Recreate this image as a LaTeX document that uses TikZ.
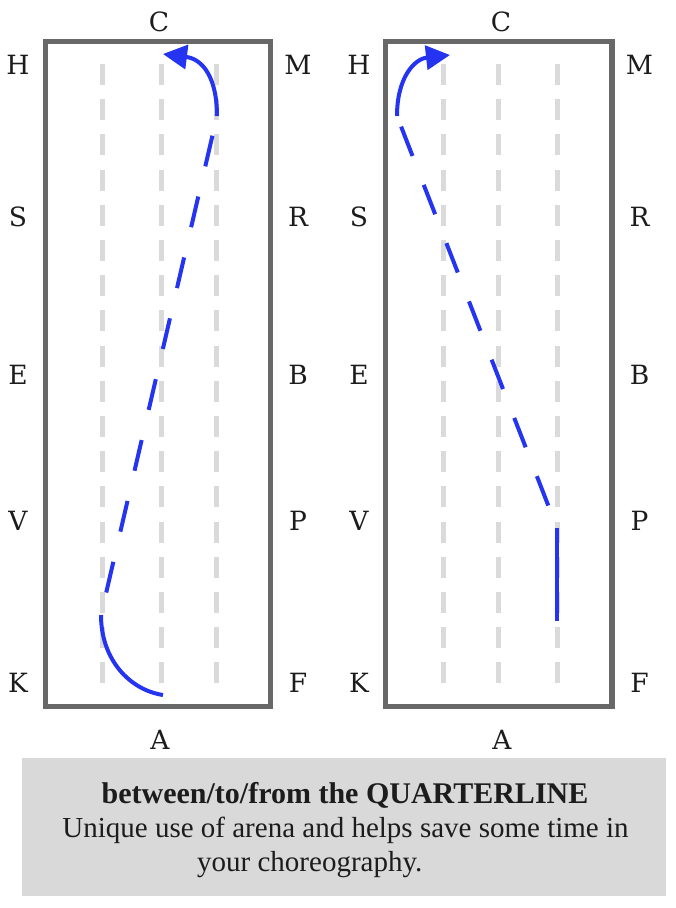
\documentclass[tikz,border=0pt]{standalone}
\usepackage{fontspec}
\setmainfont{Liberation Serif}
\newfontfamily\letterfont{DejaVu Serif}
\usetikzlibrary{arrows.meta}
\definecolor{pathblue}{RGB}{36,52,240}
\definecolor{arenagray}{RGB}{104,104,104}
\definecolor{quartergray}{RGB}{218,218,218}
\definecolor{boxgray}{RGB}{217,217,217}
\definecolor{inkblack}{RGB}{28,28,28}
\begin{document}
\begin{tikzpicture}[x=1pt,y=-1pt,
  arena/.style={draw=arenagray,line width=5pt},
  qline/.style={draw=quartergray,line width=5pt,dash pattern=on 21pt off 14.2pt},
  letter/.style={font=\letterfont\fontsize{26.5}{26.5}\selectfont,text=inkblack,inner sep=0pt,anchor=base},
  solidpath/.style={draw=pathblue,line width=4pt},
  dashpath/.style={draw=pathblue,line width=4pt,dash pattern=on 31.5pt off 31pt},
  arrowtip/.style={-{Triangle[length=24pt,width=24pt]}},
  textline/.style={text=inkblack,inner sep=0pt,font=\fontsize{29}{29}\selectfont}
]
\useasboundingbox (0,0) rectangle (676,908);

% ---- left arena ----
\draw[arena] (45.5,41.5) rectangle (270.5,706);
\foreach \x in {102.5,161,216} \draw[qline] (\x,64) -- (\x,684);
\foreach \n/\y in {H/65,S/217,E/374.5,V/521,K/683}
  \node[letter] (l\n) at (18,\y+9.8) {\n};
\foreach \n/\y in {M/65,R/217,B/374.5,P/521,F/683}
  \node[letter] (l\n) at (298,\y+9.8) {\n};
\node[letter] (lC) at (159,31.8) {C};
\node[letter] (lA) at (160,749.8) {A};

% ---- right arena ----
\draw[arena] (385.5,41.5) rectangle (611,706);
\fill[arenagray] (608.5,39) rectangle (615,708.5);
\foreach \x in {443.3,498,557} \draw[qline] (\x,64) -- (\x,684);
\foreach \n/\y in {H/65,S/217,E/374.5,V/521,K/683}
  \node[letter] (r\n) at (359,\y+9.8) {\n};
\foreach \n/\y in {M/65,R/217,B/374.5,P/521,F/683}
  \node[letter] (r\n) at (639.5,\y+9.8) {\n};
\node[letter] (rC) at (501,31.8) {C};
\node[letter] (rA) at (502,749.8) {A};

% ---- left path ----
\coordinate (L0) at (163,695);
\coordinate (L1) at (101,615);
\coordinate (L2) at (217,116);
\coordinate (L3) at (163,54);
\draw[solidpath] (L0) .. controls (130,690) and (101,660) .. (L1);
\draw[dashpath,dash phase=39.4pt] (L1) -- (L2);
\draw[solidpath,arrowtip] (L2) .. controls (217,78) and (203,59) .. (L3);

% ---- right path ----
\coordinate (R0) at (557,621);
\coordinate (R1) at (557,528);
\coordinate (R2) at (397,116);
\coordinate (R3) at (450,55);
\draw[solidpath] (R0) -- (R1);
\draw[dashpath,dash phase=38.4pt] (R1) -- (R2);
\draw[solidpath,arrowtip] (R2) .. controls (397,78) and (414,59) .. (R3);

% ---- caption box ----
\fill[boxgray] (22,758) rectangle (666,896);
\node[textline,anchor=base,font=\bfseries\fontsize{30}{30}\selectfont] (title) at (345,803) {between/to/from the QUARTERLINE};
\node[textline,anchor=base] (body1) at (345.5,837) {Unique use of arena and helps save some time in};
\node[textline,anchor=base west] (body2) at (197,871) {your choreography.};
\end{tikzpicture}
\end{document}
